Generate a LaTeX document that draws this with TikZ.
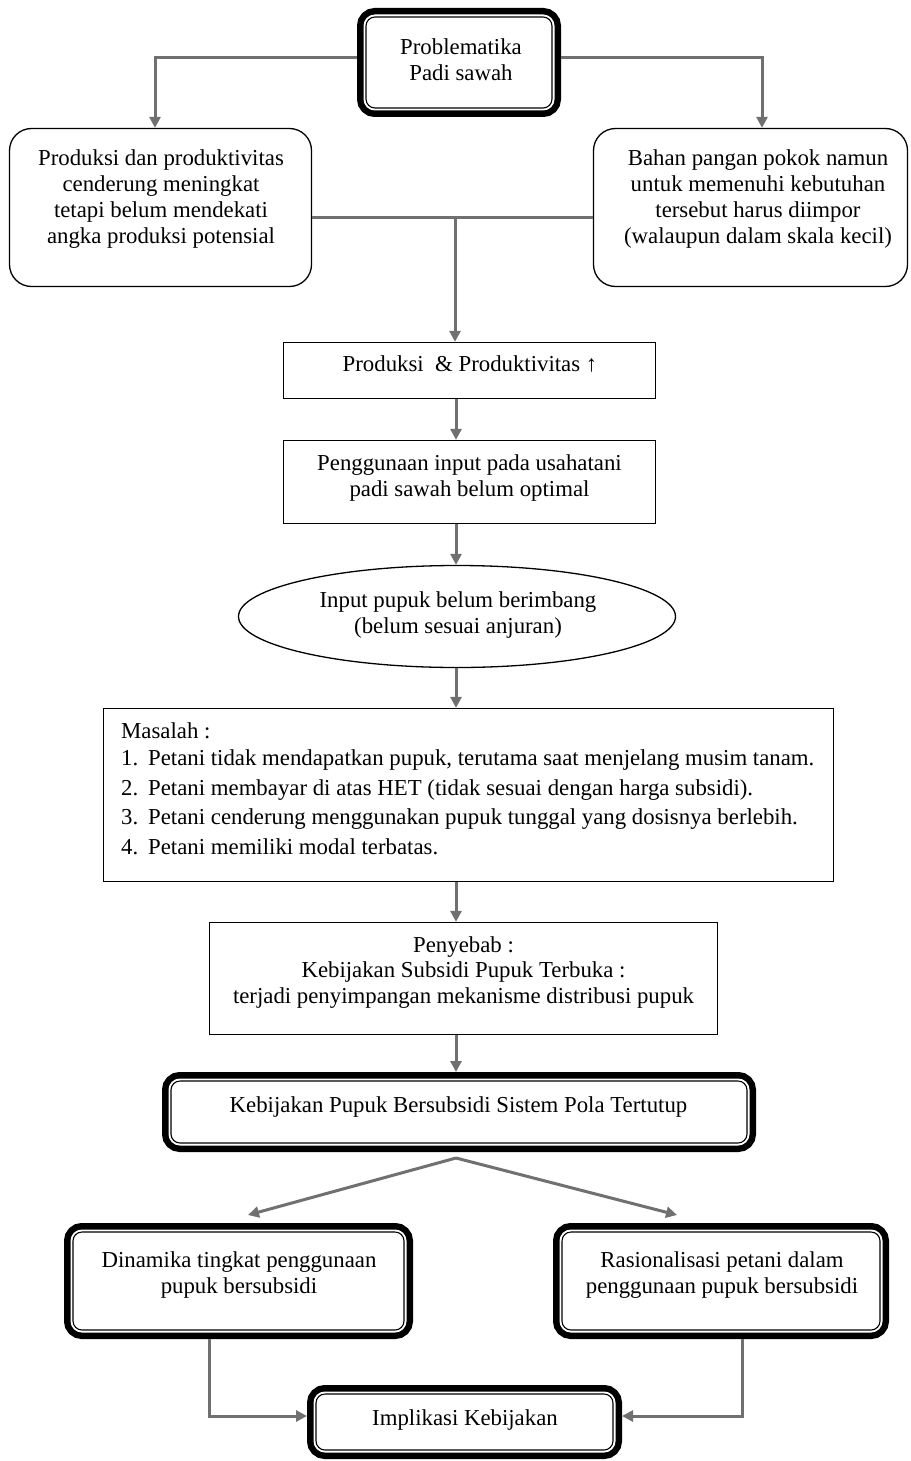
\documentclass[tikz,border=0pt]{standalone}
\usepackage{fontspec}
\setmainfont{Liberation Serif}
\usetikzlibrary{arrows.meta,shapes.geometric,calc}
\definecolor{conn}{HTML}{707070}
\tikzset{
  dbl/.style={draw=black, fill=white, line width=1.1pt, rounded corners=9pt,
    inner sep=0pt, outer sep=9pt,
    preaction={draw=black, line width=18pt},
    preaction={draw=white, line width=5pt}},
  rbox/.style={draw=black, fill=white, line width=1.3pt, rounded corners=22pt, inner sep=0pt, outer sep=0.65pt},
  sbox/.style={draw=black, fill=white, line width=1.3pt, inner sep=0pt, outer sep=0.65pt},
  ebox/.style={ellipse, draw=black, fill=white, line width=1.3pt, inner sep=0pt, outer sep=0.65pt},
  txt/.style={inner sep=0pt, align=center, font=\fontsize{22.8}{26}\selectfont},
  arr/.style={draw=conn, line width=3pt, -{Triangle[length=11pt,width=11pt]}},
  ln/.style={draw=conn, line width=3pt},
}
\begin{document}
\begin{tikzpicture}[x=1pt, y=-1pt]
\useasboundingbox (0,0) rectangle (910,1461);

% boxes
\node[dbl, minimum width=186pt, minimum height=91pt] (top) at (459,62.5) {};
\node[rbox, minimum width=302pt, minimum height=158pt] (lbox) at (160.5,207.5) {};
\node[rbox, minimum width=314pt, minimum height=158pt] (rbx) at (750.5,207.5) {};
\node[sbox, minimum width=372pt, minimum height=56pt] (prod) at (469.5,370.5) {};
\node[sbox, minimum width=372pt, minimum height=83pt] (peng) at (469.5,482) {};
\node[ebox, minimum width=437pt, minimum height=102pt] (ell) at (457,616.5) {};
\node[sbox, minimum width=730pt, minimum height=173pt] (mas) at (468.5,795) {};
\node[sbox, minimum width=508pt, minimum height=112pt] (peny) at (463.5,978.5) {};
\node[dbl, minimum width=576pt, minimum height=62pt] (keb) at (459,1112) {};
\node[dbl, minimum width=331pt, minimum height=98pt] (dyn) at (238.5,1281) {};
\node[dbl, minimum width=318pt, minimum height=98pt] (rat) at (721,1281) {};
\node[dbl, minimum width=297pt, minimum height=56pt] (impl) at (464.5,1422) {};

% texts
\node[txt] (ttop) at (461,59.7) {Problematika\\Padi sawah};
\node[txt] (tl) at (161,198.7) {Produksi dan produktivitas\\cenderung meningkat\\tetapi belum mendekati\\angka produksi potensial};
\node[txt] (tr) at (758,198.7) {Bahan pangan pokok namun\\untuk memenuhi kebutuhan\\tersebut harus diimpor\\(walaupun dalam skala kecil)};
\node[txt] (tprod) at (470,364.2) {Produksi\ \ \& Produktivitas ↑};
\node[txt] (tpeng) at (469.5,478.2) {Penggunaan input pada usahatani\\padi sawah belum optimal};
\node[txt] (tell) at (458,614.7) {Input pupuk belum berimbang\\(belum sesuai anjuran)};
\node[txt, align=left, anchor=west, font=\fontsize{22.8}{29.5}\selectfont] (tmas) at (121,788.7) {Masalah :\\[-2.5pt]
\makebox[27pt][l]{1.}Petani tidak mendapatkan pupuk, terutama saat menjelang musim tanam.\\
\makebox[27pt][l]{2.}Petani membayar di atas HET (tidak sesuai dengan harga subsidi).\\
\makebox[27pt][l]{3.}Petani cenderung menggunakan pupuk tunggal yang dosisnya berlebih.\\
\makebox[27pt][l]{4.}Petani memiliki modal terbatas.};
\node[txt, font=\fontsize{22.8}{25.5}\selectfont] (tpeny) at (463.5,972.2) {Penyebab :\\Kebijakan Subsidi Pupuk Terbuka :\\terjadi penyimpangan mekanisme distribusi pupuk};
\node[txt] (tkeb) at (458.5,1106.7) {Kebijakan Pupuk Bersubsidi Sistem Pola Tertutup};
\node[txt] (tdyn) at (239,1274.7) {Dinamika tingkat penggunaan\\pupuk bersubsidi};
\node[txt] (trat) at (722,1274.7) {Rasionalisasi petani dalam\\penggunaan pupuk bersubsidi};
\node[txt] (timpl) at (465,1419.7) {Implikasi Kebijakan};

% helper coordinates
\coordinate (spine) at (456,0);
\coordinate (j1) at (455,217);
\coordinate (apex) at (456,1158);
\coordinate (tipL) at (248,1215);
\coordinate (tipR) at (677,1215);

% connectors
\draw[arr] ($(top.west)+(0,-4.5)$) -| ($(lbox.north)+(-5.5,0)$);
\draw[arr] ($(top.east)+(0,-4.5)$) -| ($(rbx.north)+(11.5,0)$);
\draw[ln] ($(lbox.east)+(0,9.5)$) -- ($(rbx.west)+(0,9.5)$);
\draw[arr] (j1) -- (j1 |- prod.north);
\draw[arr] (prod.south -| spine) -- (peng.north -| spine);
\draw[arr] (peng.south -| spine) -- (ell.north -| spine);
\draw[arr] (ell.south -| spine) -- (mas.north -| spine);
\draw[arr] (mas.south -| spine) -- (peny.north -| spine);
\draw[arr] (peny.south -| spine) -- (keb.north -| spine);
\draw[arr] (apex) -- (tipL);
\draw[arr] (apex) -- (tipR);
\draw[arr] ($(dyn.south)+(-29.5,0)$) |- ($(impl.west)+(0,-6)$);
\draw[arr] ($(rat.south)+(21,0)$) |- ($(impl.east)+(0,-6)$);
\end{tikzpicture}
\end{document}
